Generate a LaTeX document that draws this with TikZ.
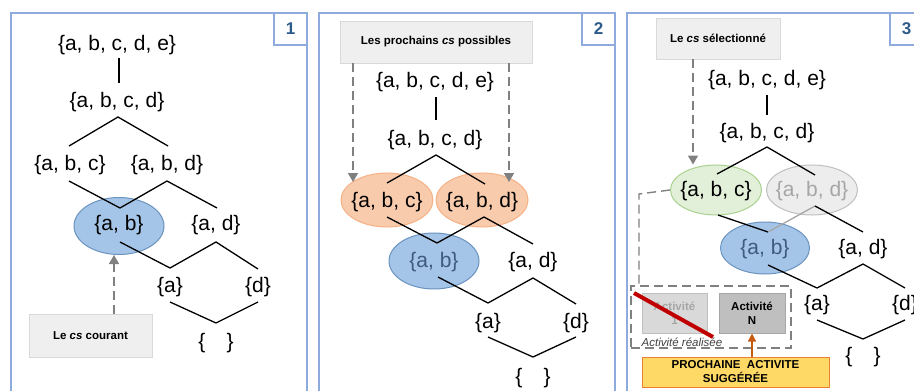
\documentclass[tikz,border=0pt]{standalone}
\usepackage{fontspec}
\setmainfont{Liberation Sans}
\usetikzlibrary{arrows.meta,shapes.geometric}
\definecolor{frameblue}{HTML}{8FAADC}
\definecolor{numblue}{HTML}{2E5C8A}
\definecolor{boxgray}{HTML}{EFEFEF}
\definecolor{boxgrayd}{HTML}{D9D9D9}
\definecolor{arrgray}{HTML}{808080}
\definecolor{bluefill}{HTML}{A4C5E8}
\definecolor{bluedraw}{HTML}{6A93C0}
\definecolor{bluetext}{HTML}{3E5A7E}
\definecolor{orfill}{HTML}{F8CBAD}
\definecolor{ordraw}{HTML}{F4B183}
\definecolor{grfill}{HTML}{E2F0D9}
\definecolor{grdraw}{HTML}{A9D18E}
\definecolor{gyfill}{HTML}{EDEDED}
\definecolor{gydraw}{HTML}{BFBFBF}
\definecolor{gytext}{HTML}{A6A6A6}
\definecolor{redline}{HTML}{C00000}
\definecolor{yelfill}{HTML}{FFD966}
\definecolor{orline}{HTML}{ED7D31}
\definecolor{orarrow}{HTML}{C55A11}
\begin{document}
\begin{tikzpicture}[x=1pt,y=-1pt,
  tree/.style={font=\fontsize{21}{24}\selectfont, inner sep=0pt},
  lnk/.style={line width=1.3pt, black},
  frame/.style={line width=1.3pt, draw=frameblue},
  numbox/.style={frame, fill=white, inner sep=0pt, font=\bfseries\fontsize{17}{20}\selectfont, text=numblue},
  labelbox/.style={draw=boxgrayd, fill=boxgray, line width=0.8pt, inner sep=0pt, font=\bfseries\fontsize{11.5}{13}\selectfont},
  garrow/.style={draw=arrgray, line width=1.6pt, dash pattern=on 9pt off 5pt, -{Triangle[length=9pt,width=10pt]}},
  ellbase/.style={ellipse, inner sep=0pt, line width=1pt},
  blueell/.style={ellbase, fill=bluefill, draw=bluedraw},
  orell/.style={ellbase, fill=orfill, draw=ordraw},
  grell/.style={ellbase, fill=grfill, draw=grdraw},
  gyell/.style={ellbase, fill=gyfill, draw=gydraw},
  actbox/.style={inner sep=0pt, line width=1pt, align=center, font=\bfseries\fontsize{11.5}{14}\selectfont},
]
\clip (0,0) rectangle (914,391);
\fill[white] (0,0) rectangle (914,391);

% ---------------- frames ----------------
\draw[frame] (11,400) -- (11,13) -- (307,13) -- (307,400);
\draw[frame] (319,400) -- (319,13) -- (615,13) -- (615,400);
\draw[frame] (627,400) -- (627,13) -- (923,13) -- (923,400);
\node[numbox, minimum width=33pt, minimum height=32pt] (n1) at (290.5,29) {1};
\node[numbox, minimum width=33pt, minimum height=32pt] (n2) at (598.5,29) {2};
\node[numbox, minimum width=33pt, minimum height=32pt] (n3) at (906.5,29) {3};

% ---------------- panel 1 ----------------
\node[blueell, minimum width=90pt, minimum height=57pt] (p1abE) at (119,226) {};
\node[tree] (p1e) at (117,45) {\{a, b, c, d, e\}};
\node[tree] (p1d) at (117,102) {\{a, b, c, d\}};
\node[tree] (p1abc) at (70,165) {\{a, b, c\}};
\node[tree] (p1abd) at (167,165) {\{a, b, d\}};
\node[tree] (p1ab) at (119,225) {\{a, b\}};
\node[tree] (p1ad) at (216,225) {\{a, d\}};
\node[tree] (p1a) at (170,287) {\{a\}};
\node[tree] (p1dd) at (258,287) {\{d\}};
\node[tree] (p1z) at (216,343) {\{\hspace{21pt}\}};
\coordinate (p1c1) at (119,58); \coordinate (p1c2) at (119,83);
\coordinate (p1c3) at (118,117); \coordinate (p1c4) at (69,146); \coordinate (p1c5) at (168,146);
\coordinate (p1c6) at (69,181); \coordinate (p1c7) at (120,208); \coordinate (p1c8) at (167,181); \coordinate (p1c9) at (217,208);
\coordinate (p1c10) at (120,242); \coordinate (p1c11) at (170,268); \coordinate (p1c12) at (216,242); \coordinate (p1c13) at (258,269);
\coordinate (p1c14) at (170,302); \coordinate (p1c15) at (216,323); \coordinate (p1c16) at (258,302);
\draw[lnk] (p1c1) -- (p1c2);
\draw[lnk] (p1c4) -- (p1c3) -- (p1c5);
\draw[lnk] (p1c6) -- (p1c7) -- (p1c8) -- (p1c9);
\draw[lnk] (p1c10) -- (p1c11) -- (p1c12) -- (p1c13);
\draw[lnk] (p1c14) -- (p1c15) -- (p1c16);
\node[labelbox, minimum width=123pt, minimum height=43pt] (p1box) at (90.5,335.5) {Le \textit{cs} courant};
\draw[garrow] (p1box.north -| 114,0) -- (p1abE.south -| 114,0);

% ---------------- panel 2 ----------------
\node[labelbox, minimum width=192pt, minimum height=42pt] (p2box) at (436,42) {Les prochains \textit{cs} possibles};
\node[orell, minimum width=92pt, minimum height=54pt] (p2abcE) at (387,200) {};
\node[orell, minimum width=92pt, minimum height=54pt] (p2abdE) at (482,200) {};
\node[blueell, minimum width=90pt, minimum height=56pt] (p2abE) at (434,261) {};
\draw[garrow] (p2box.south -| 353,0) -- (353,182);
\draw[garrow] (p2box.south -| 509,0) -- (509,182);
\node[tree] (p2e) at (435,82) {\{a, b, c, d, e\}};
\node[tree] (p2d) at (435,140) {\{a, b, c, d\}};
\node[tree] (p2abc) at (387,202) {\{a, b, c\}};
\node[tree] (p2abd) at (482,202) {\{a, b, d\}};
\node[tree, text=bluetext] (p2ab) at (434,262) {\{a, b\}};
\node[tree] (p2ad) at (533,262) {\{a, d\}};
\node[tree] (p2a) at (488,323) {\{a\}};
\node[tree] (p2dd) at (576,323) {\{d\}};
\node[tree] (p2z) at (533,378) {\{\hspace{21pt}\}};
\coordinate (p2c1) at (436,97); \coordinate (p2c2) at (436,120);
\coordinate (p2c3) at (436,155); \coordinate (p2c4) at (387,183); \coordinate (p2c5) at (485,184);
\coordinate (p2c6) at (387,217); \coordinate (p2c7) at (437,243); \coordinate (p2c8) at (484,217); \coordinate (p2c9) at (533,244);
\coordinate (p2c10) at (438,277); \coordinate (p2c11) at (488,303); \coordinate (p2c12) at (533,278); \coordinate (p2c13) at (576,304);
\coordinate (p2c14) at (488,337); \coordinate (p2c15) at (533,357); \coordinate (p2c16) at (576,337);
\draw[lnk] (p2c1) -- (p2c2);
\draw[lnk] (p2c4) -- (p2c3) -- (p2c5);
\draw[lnk] (p2c6) -- (p2c7) -- (p2c8) -- (p2c9);
\draw[lnk] (p2c10) -- (p2c11) -- (p2c12) -- (p2c13);
\draw[lnk] (p2c14) -- (p2c15) -- (p2c16);

% ---------------- panel 3 ----------------
\node[labelbox, minimum width=124pt, minimum height=41pt] (p3box) at (718,38.5) {Le \textit{cs} sélectionné};
\node[grell, minimum width=91pt, minimum height=50pt] (p3abcE) at (716,190) {};
\node[gyell, minimum width=91pt, minimum height=50pt] (p3abdE) at (812,190) {};
\node[blueell, minimum width=89pt, minimum height=52pt] (p3abE) at (765,248) {};
\draw[garrow] (p3box.south -| 693,0) -- (p3abcE.north -| 693,0);
\node[tree] (p3e) at (767,80) {\{a, b, c, d, e\}};
\node[tree] (p3d) at (767,133) {\{a, b, c, d\}};
\node[tree] (p3abc) at (716,191) {\{a, b, c\}};
\node[tree, text=gytext] (p3abd) at (812,191) {\{a, b, d\}};
\node[tree, text=bluetext] (p3ab) at (765,249) {\{a, b\}};
\node[tree] (p3ad) at (863,249) {\{a, d\}};
\node[tree] (p3a) at (817,305) {\{a\}};
\node[tree] (p3dd) at (905,305) {\{d\}};
\node[tree] (p3z) at (863,357) {\{\hspace{21pt}\}};
\coordinate (p3c1) at (767,95); \coordinate (p3c2) at (767,115);
\coordinate (p3c3) at (767,147); \coordinate (p3c4) at (717,174); \coordinate (p3c5) at (815,175);
\coordinate (p3c6) at (718,215); \coordinate (p3c7) at (768,232); \coordinate (p3c8) at (815,206); \coordinate (p3c9) at (863,232);
\coordinate (p3c10) at (768,265); \coordinate (p3c11) at (817,288); \coordinate (p3c12) at (863,264); \coordinate (p3c13) at (905,288);
\coordinate (p3c14) at (817,320); \coordinate (p3c15) at (863,339); \coordinate (p3c16) at (905,320);
\draw[lnk] (p3c1) -- (p3c2);
\draw[lnk] (p3c4) -- (p3c3) -- (p3c5);
\draw[lnk] (p3c6) -- (p3c7);
\draw[lnk, draw=gytext] (p3c7) -- (p3c8);
\draw[lnk] (p3c8) -- (p3c9);
\draw[lnk] (p3c10) -- (p3c11) -- (p3c12) -- (p3c13);
\draw[lnk] (p3c14) -- (p3c15) -- (p3c16);

% activity group
\node[draw=arrgray, line width=1.4pt, dash pattern=on 9pt off 5pt, minimum width=160pt, minimum height=62pt, inner sep=0pt] (p3grp) at (711,317) {};
\coordinate (p3k) at (639,194);
\draw[draw=arrgray, line width=1.4pt, dash pattern=on 9pt off 5pt] (p3abcE.west) -- (p3k) -- (p3k |- p3grp.north);
\node[actbox, fill=boxgrayd, draw=gydraw, text=gytext, minimum width=65pt, minimum height=40pt] (act1) at (674.5,313) {Activité\\1};
\node[actbox, fill=gydraw, draw=gytext, minimum width=66pt, minimum height=40pt] (actN) at (752,313) {Activité\\N};
\coordinate (r1) at (634,293); \coordinate (r2) at (713,337);
\draw[redline, line width=4pt] (r1) -- (r2);
\node[font=\itshape\fontsize{11.5}{13}\selectfont, text=black!75, inner sep=0pt] (real) at (682,342) {Activité réalisée};
\node[actbox, fill=yelfill, draw=orline, minimum width=187pt, minimum height=30pt, font=\bfseries\fontsize{11.5}{14}\selectfont] (sugg) at (735.5,372) {PROCHAINE\ \ ACTIVITE\\SUGGÉRÉE};
\draw[orarrow, line width=1.6pt, -{Triangle[length=8pt,width=8pt]}] (sugg.north -| actN) -- (actN.south);
\end{tikzpicture}
\end{document}
